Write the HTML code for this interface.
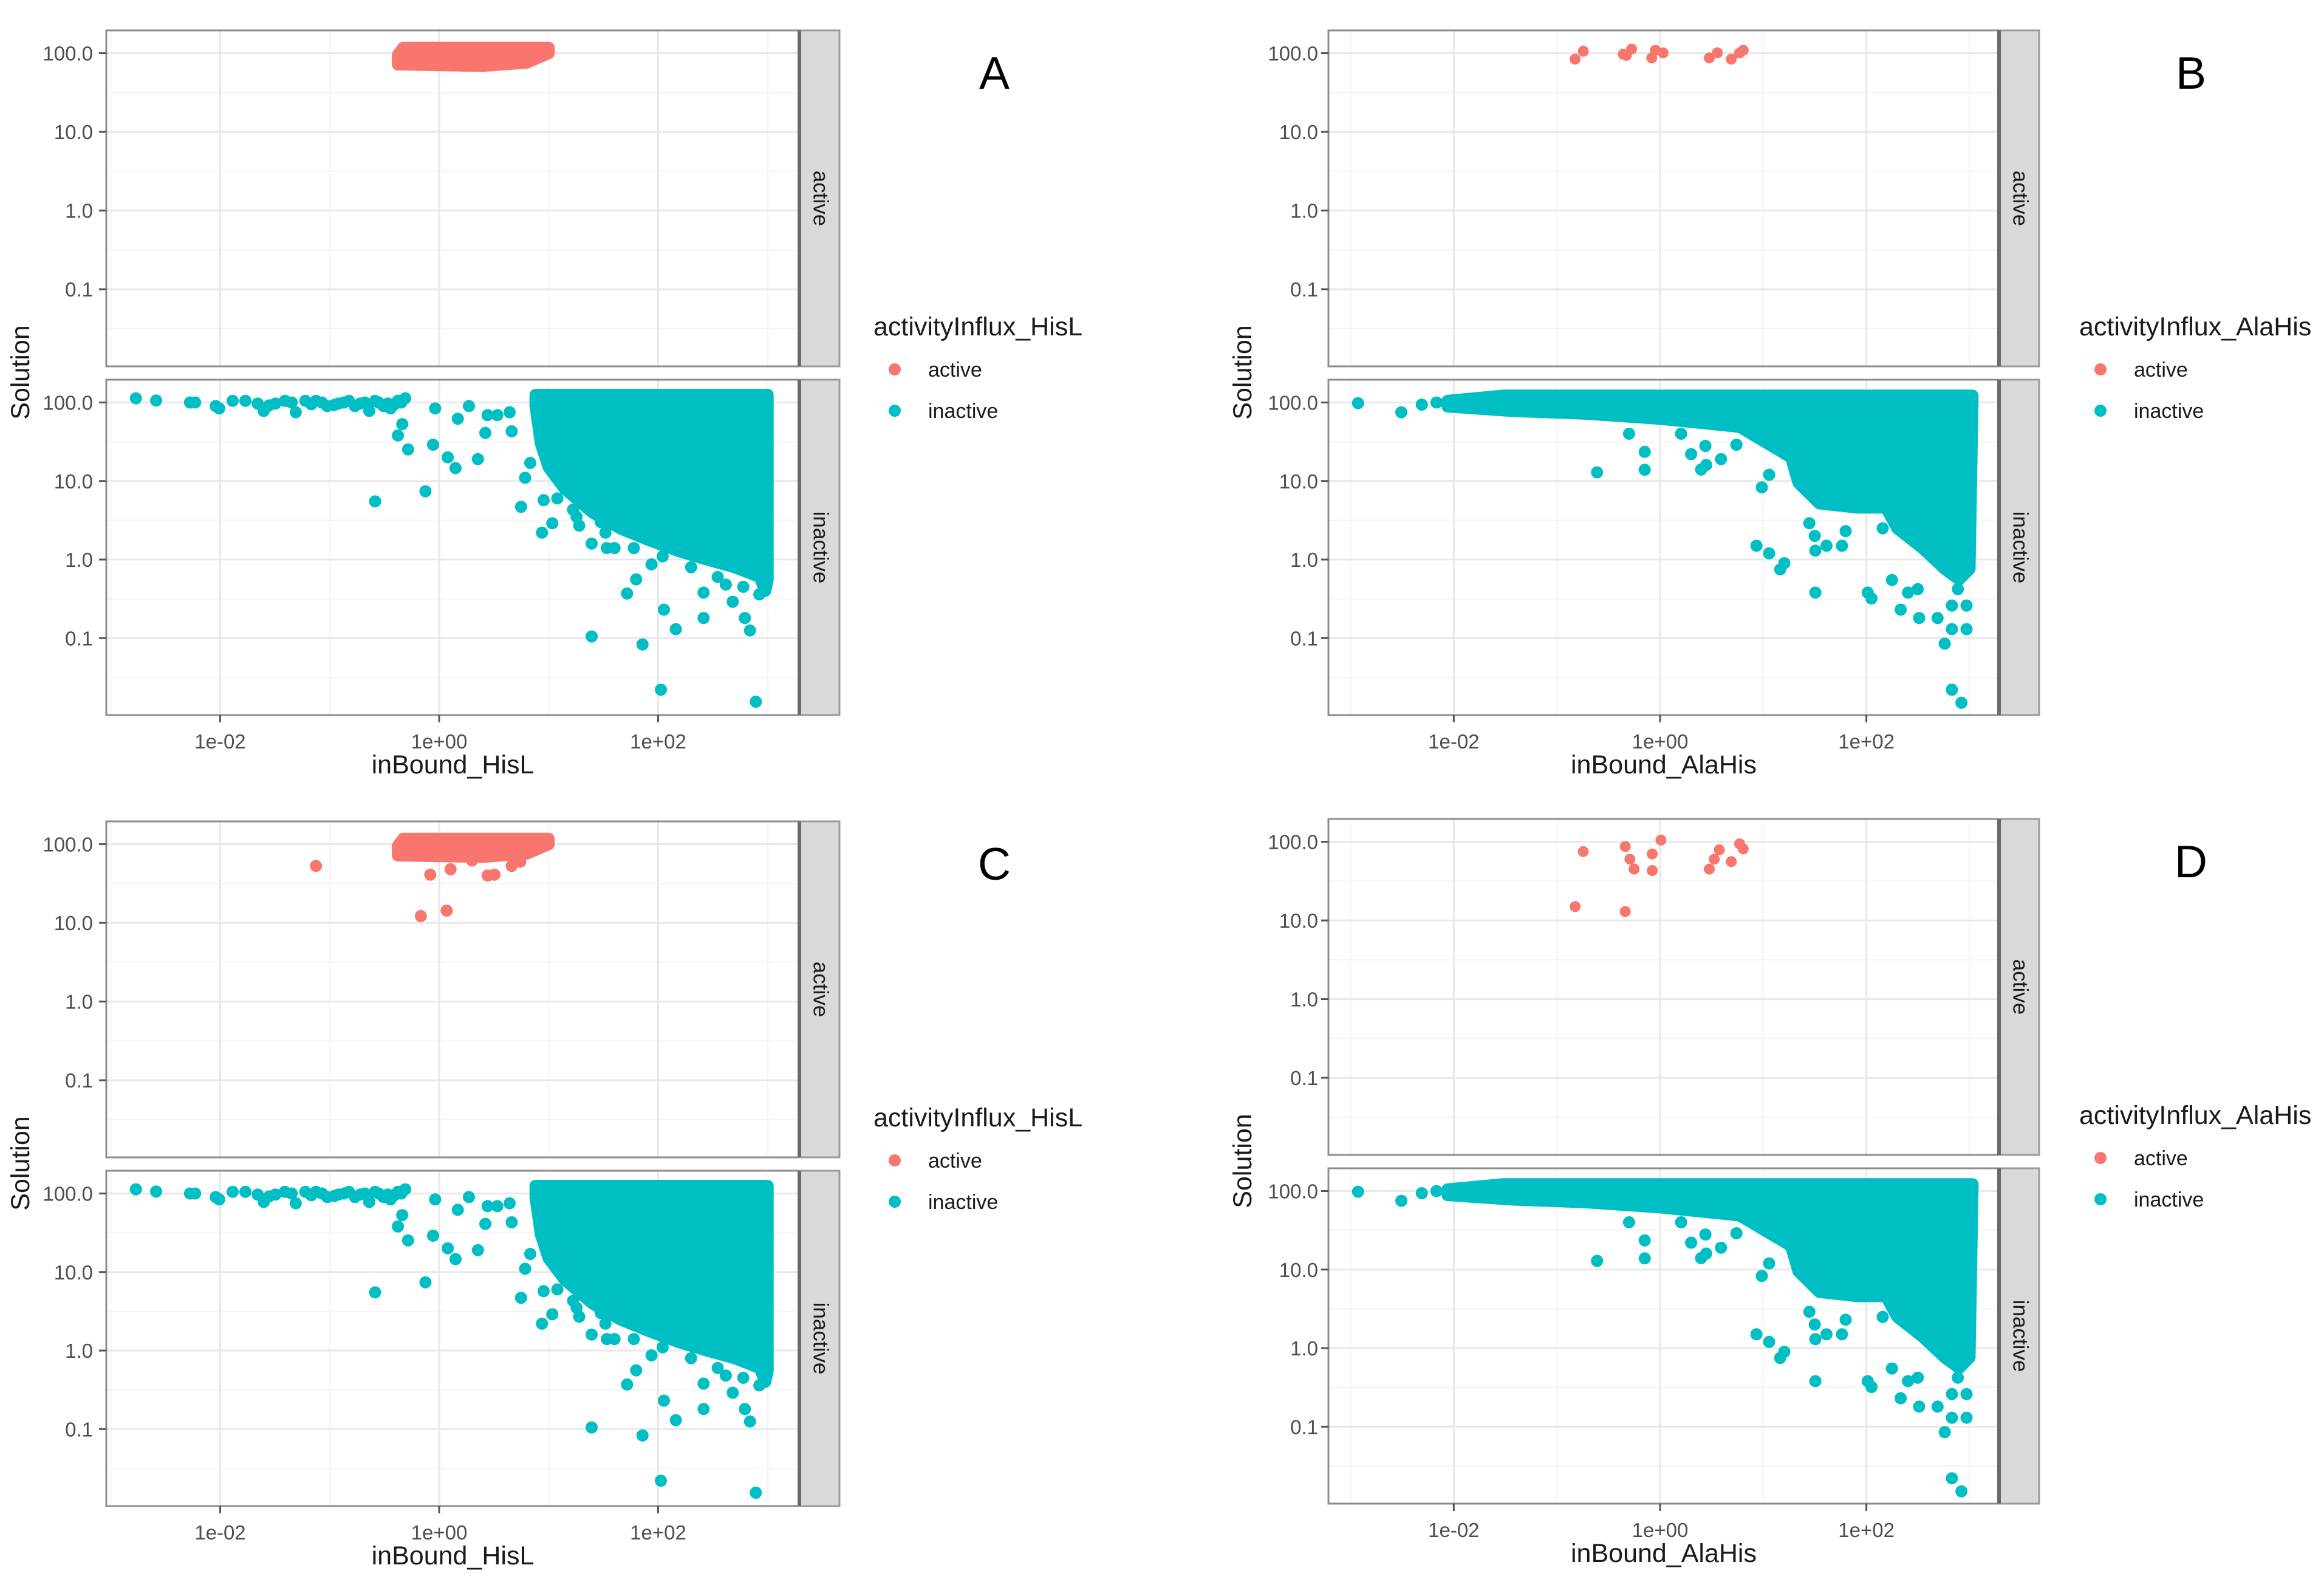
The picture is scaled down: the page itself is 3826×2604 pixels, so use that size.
<!DOCTYPE html>
<html><head><meta charset="utf-8"><style>
html,body{margin:0;padding:0;background:#fff;}
svg{display:block;font-family:"Liberation Sans",Arial,sans-serif;}
</style></head><body>
<svg id="fig" xmlns="http://www.w3.org/2000/svg" width="3826" height="2604" viewBox="0 0 3826 2604"></svg>
<script>
// ---------- data ----------
const xTicks = [0.01, 1, 100];
const xTickLabels = ["1e-02", "1e+00", "1e+02"];
const yTicks = [0.1, 1, 10, 100];
const yTickLabels = ["0.1", "1.0", "10.0", "100.0"];
const yMinor = [0.0316, 0.316, 3.16, 31.6];
const xMinor = [0.001, 0.1, 10, 1000];

// HisL active dense blob (envelope of dot centres)
const hislActiveBlobX = [0.42, 0.47, 10, 10, 6.3, 2.5, 0.42];
const hislActiveBlobY = [95, 117, 117, 100, 76, 69, 72];
// HisL active extra points (panel C)
const hislActiveExtraX = [0.075, 0.83, 1.27, 0.68, 1.17, 2.77, 3.2, 4.6, 5.5, 2.0];
const hislActiveExtraY = [53, 41, 48, 12.2, 14.3, 40, 41, 53, 60, 62];
// HisL inactive dense region
const hislInactiveBlobX = [7.6, 1000, 1000, 950, 850, 500, 280, 150, 80, 45, 25, 14, 10, 8.5, 7.6];
const hislInactiveBlobY = [125, 125, 0.55, 0.4, 0.6, 0.8, 1.0, 1.3, 1.8, 2.5, 4, 8, 15, 30, 89];
// HisL inactive individual points
const hislInactiveX = [0.0017,0.0026,0.0053,0.0059,0.0091,0.0098,0.013,0.017,0.022,0.025,0.032,0.039,0.049,0.06,0.075,0.095,0.12,0.15,0.19,0.23,0.26,0.31,0.36,0.42,0.49,
  0.028,0.045,0.068,0.085,0.11,0.135,0.17,0.21,0.28,0.34,0.39,0.45,
  0.46,0.42,0.52,0.26,0.75,0.92,0.88,1.2,1.41,1.48,1.87,2.26,2.64,2.77,3.4,4.4,4.6,5.6,6.1,6.8,8.7,9,10.8,16.7,19,24.7,30,34,40,24.7,52,63,72,87,106,113,145,260,260,415,480,620,690,780,840,950,
  12,18,33,60,110,200,350,600];
const hislInactiveY = [113,106,100,100,90,84,105,105,97,78,97,105,75,105,105,90,97,105,97,78,105,90,84,105,113,
  92,100,95,100,93,100,90,100,100,97,95,100,
  53,38,25.3,5.5,7.4,84,29,20,14.6,62,90,19,41,69,69,75,43,4.7,11,17,2.2,5.7,2.9,4.3,2.7,1.6,3,1.4,1.4,0.105,0.37,0.56,0.083,0.87,0.022,0.23,0.13,0.38,0.18,0.48,0.29,0.18,0.125,0.0155,0.36,0.48,
  6,3.5,2.2,1.4,1.1,0.8,0.6,0.45];

// AlaHis active points (panel B)
const alahisActiveX = [0.15,0.18,0.44,0.53,0.47,0.83,0.9,1.07,3.0,3.6,4.9,5.9,6.4];
const alahisActiveY = [84,106,97,113,94,87,109,101,87,101,84,101,109];
// AlaHis active points (panel D)
const alahisActiveDX = [0.15,0.18,0.46,0.46,0.51,0.56,0.84,0.84,1.02,3.0,3.35,3.75,4.9,5.9,6.4];
const alahisActiveDY = [15,75,87,13,60,45,70,43,105,45,60,79,56,94,81];
// AlaHis inactive dense region
const alahisInactiveBlobX = [0.0087, 0.03, 1070, 1000, 794, 575, 355, 200, 155, 81, 35, 22, 18.6, 5.9, 1, 0.19, 0.037, 0.0087];
const alahisInactiveBlobY = [105, 122, 122, 0.76, 0.56, 0.76, 1.38, 2.5, 4.6, 4.6, 5.2, 9.5, 20, 49, 62, 72, 78, 89];
// AlaHis inactive individual points
const alahisInactiveX = [0.00118,0.0031,0.0049,0.0068,0.245,0.5,0.71,0.71,1.6,2.0,2.5,2.75,2.8,3.9,5.5,8.2,8.6,9.7,11.4,11.4,14.6,16,28,31.6,32,32,41,58,63,103,112,144,177,215,253,315,325,490,575,675,675,770,935,935,675,835];
const alahisInactiveY = [98,75,94,100,12.9,40,23.5,13.9,40,22,14,28,16,19,29,46,1.5,8.3,1.2,12,0.75,0.9,2.9,2.0,0.38,1.3,1.5,1.5,2.3,0.38,0.32,2.5,0.55,0.23,0.38,0.42,0.18,0.18,0.085,0.26,0.13,0.42,0.26,0.13,0.022,0.015];

// ---------- rendering ----------
const RED = "#F8766D", CYAN = "#00BFC4";
const NS = "http://www.w3.org/2000/svg";
const svg = document.getElementById("fig");
function mk(tag, attrs, parent) {
  const e = document.createElementNS(NS, tag);
  for (const k in attrs) e.setAttribute(k, attrs[k]);
  (parent || svg).appendChild(e);
  return e;
}
function txt(str, attrs, parent) { const t = mk("text", attrs, parent); t.textContent = str; return t; }

const panels = [
  {id:"a", L:175, R:1316, S:1382, dy:0, xlim:[-3.04,3.29], yLabR:153, solX:34, legX:1438, letterX:1637, letter:"A",
   xTitle:"inBound_HisL", legTitle:"activityInflux_HisL", kind:"hisl", extra:false},
  {id:"b", L:2187, R:3291, S:3357, dy:0, xlim:[-3.215,3.286], yLabR:2170, solX:2046, legX:3423, letterX:3607, letter:"B",
   xTitle:"inBound_AlaHis", legTitle:"activityInflux_AlaHis", kind:"alahis", extra:false},
  {id:"c", L:175, R:1316, S:1382, dy:1302, xlim:[-3.04,3.29], yLabR:153, solX:34, legX:1438, letterX:1637, letter:"C",
   xTitle:"inBound_HisL", legTitle:"activityInflux_HisL", kind:"hisl", extra:true},
  {id:"d", L:2187, R:3291, S:3357, dy:1298, xlim:[-3.215,3.286], yLabR:2170, solX:2046, legX:3423, letterX:3607, letter:"D",
   xTitle:"inBound_AlaHis", legTitle:"activityInflux_AlaHis", kind:"alahis", extra:true}
];
const YLIM = [-1.98, 2.29];
const subs = [{top:50, bot:603, name:"active"}, {top:625, bot:1177, name:"inactive"}];

function drawPanel(p) {
  const g = mk("g", {});
  
  
  const xs = v => p.L + (Math.log10(v) - p.xlim[0]) / (p.xlim[1] - p.xlim[0]) * (p.R - p.L);
  subs.forEach((s, si) => {
    const top = s.top + p.dy, bot = s.bot + p.dy;
    const ys = v => bot - (Math.log10(v) - YLIM[0]) / (YLIM[1] - YLIM[0]) * (bot - top);
    const sg = mk("g", {}, g);
    
    
    mk("rect", {x:p.L, y:top, width:p.R-p.L, height:bot-top, fill:"#fff"}, sg);
    const clipId = "clip-" + p.id + si;
    const cp = mk("clipPath", {id:clipId}, sg);
    mk("rect", {x:p.L, y:top, width:p.R-p.L, height:bot-top}, cp);
    const grid = mk("g", {"clip-path":"url(#"+clipId+")"}, sg);
    
    
    xMinor.forEach(v => mk("line", {x1:xs(v), x2:xs(v), y1:top, y2:bot, stroke:"#f4f4f4", "stroke-width":2}, grid));
    yMinor.forEach(v => mk("line", {x1:p.L, x2:p.R, y1:ys(v), y2:ys(v), stroke:"#f4f4f4", "stroke-width":2}, grid));
    xTicks.forEach(v => mk("line", {x1:xs(v), x2:xs(v), y1:top, y2:bot, stroke:"#e8e8e8", "stroke-width":3}, grid));
    yTicks.forEach(v => mk("line", {x1:p.L, x2:p.R, y1:ys(v), y2:ys(v), stroke:"#e8e8e8", "stroke-width":3}, grid));
    const marks = mk("g", {"clip-path":"url(#"+clipId+")"}, sg);
    
    
    const col = si === 0 ? RED : CYAN;
    function blob(X, Y) {
      const pts = X.map((v, i) => xs(v).toFixed(1) + "," + ys(Y[i]).toFixed(1)).join(" ");
      const pg = mk("polygon", {points:pts, fill:col, stroke:col, "stroke-width":20, "stroke-linejoin":"round"}, marks);
      
      
    }
    function dots(X, Y, r) {
      X.forEach((v, i) => {
        const c = mk("circle", {cx:xs(v).toFixed(1), cy:ys(Y[i]).toFixed(1), r:r, fill:col}, marks);
        
        
      });
    }
    if (p.kind === "hisl") {
      if (si === 0) { blob(hislActiveBlobX, hislActiveBlobY); if (p.extra) dots(hislActiveExtraX, hislActiveExtraY, 10); }
      else { blob(hislInactiveBlobX, hislInactiveBlobY); dots(hislInactiveX, hislInactiveY, 10); }
    } else {
      if (si === 0) { if (p.extra) dots(alahisActiveDX, alahisActiveDY, 9); else dots(alahisActiveX, alahisActiveY, 9); }
      else { blob(alahisInactiveBlobX, alahisInactiveBlobY); dots(alahisInactiveX, alahisInactiveY, 10); }
    }
    mk("rect", {x:p.L, y:top, width:p.R-p.L, height:bot-top, fill:"none", stroke:"#8c8c8c", "stroke-width":3}, sg);
    const st = mk("rect", {x:p.R, y:top, width:p.S-p.R, height:bot-top, fill:"#d9d9d9", stroke:"#9a9a9a", "stroke-width":3}, sg);
    
    
    mk("line", {x1:p.R, x2:p.R, y1:top, y2:bot, stroke:"#6a6a6a", "stroke-width":6}, sg);
    const sx = (p.R + p.S) / 2 + 2, sy = (top + bot) / 2;
    const stt = txt(s.name, {x:sx, y:sy, "font-size":35, fill:"#1a1a1a", "text-anchor":"middle", "dominant-baseline":"central", transform:"rotate(90 "+sx+" "+sy+")"}, sg);
    
    
    const ya = mk("g", {}, sg);
    
    
    yTicks.forEach((v, i) => {
      mk("line", {x1:p.L-12, x2:p.L, y1:ys(v), y2:ys(v), stroke:"#555", "stroke-width":3}, ya);
      const t = txt(yTickLabels[i], {x:p.yLabR, y:ys(v)+12, "font-size":33, fill:"#4d4d4d", "text-anchor":"end"}, ya);
      
      
    });
    if (si === 1) {
      const xa = mk("g", {}, sg);
      
      
      xTicks.forEach((v, i) => {
        mk("line", {x1:xs(v), x2:xs(v), y1:bot, y2:bot+12, stroke:"#555", "stroke-width":3}, xa);
        const t = txt(xTickLabels[i], {x:xs(v), y:bot+55, "font-size":33, fill:"#4d4d4d", "text-anchor":"middle"}, xa);
        
        
      });
    }
  });
  const xt = txt(p.xTitle, {x:(p.L+p.R)/2, y:1273+p.dy, "font-size":43, fill:"#1a1a1a", "text-anchor":"middle"}, g);
  
  
  const sy = 613 + p.dy;
  const yt = txt("Solution", {x:p.solX, y:sy, "font-size":43, fill:"#1a1a1a", "text-anchor":"middle", "dominant-baseline":"central", transform:"rotate(-90 "+p.solX+" "+sy+")"}, g);
  
  
  const lg = mk("g", {}, g);
  
  
  const lt = txt(p.legTitle, {x:p.legX, y:552+p.dy, "font-size":43, fill:"#1a1a1a"}, lg);
  
  
  [["active", RED, 608], ["inactive", CYAN, 676]].forEach(e => {
    const eg = mk("g", {}, lg);
    
    
    mk("circle", {cx:p.legX+35, cy:e[2]+p.dy, r:10, fill:e[1]}, eg);
    txt(e[0], {x:p.legX+90, y:e[2]+p.dy+12, "font-size":34, fill:"#1a1a1a"}, eg);
  });
  const L = txt(p.letter, {x:p.letterX, y:146+p.dy, "font-size":75, fill:"#000", "text-anchor":"middle"}, g);
  
  
}
panels.forEach(drawPanel);
</script>
</body></html>
